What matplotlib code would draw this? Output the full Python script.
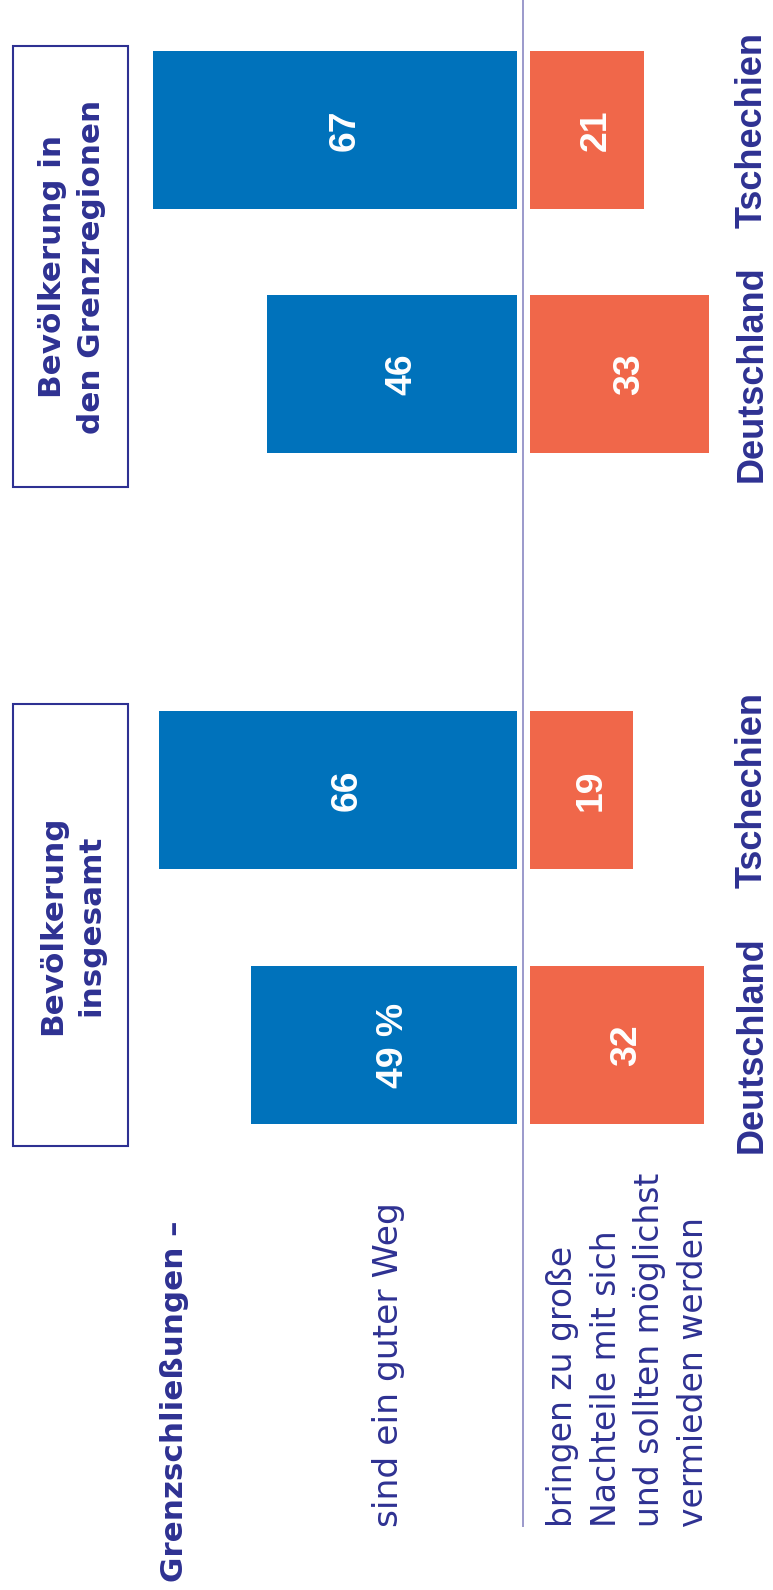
"""
Grenzschließungen – Zustimmung in Deutschland und Tschechien,
Bevölkerung insgesamt vs. Bevölkerung in den Grenzregionen.

Rotated butterfly bar chart, saved as out.png.
"""

import matplotlib.pyplot as plt
from matplotlib import font_manager
from matplotlib.patches import Rectangle

# ---- data -------------------------------------------------------------
groups = ["Bevölkerung\ninsgesamt", "Bevölkerung in\nden Grenzregionen"]
countries = ["Deutschland", "Tschechien", "Deutschland", "Tschechien"]
good_way = [49, 66, 46, 67]        # "sind ein guter Weg"
disadvantages = [32, 19, 33, 21]   # "bringen zu große Nachteile ..."

title = "Grenzschließungen –"
answer_good = "sind ein guter Weg"
answer_bad = "bringen zu große\nNachteile mit sich\nund sollten möglichst\nvermieden werden"

# ---- style / layout ---------------------------------------------------
BLUE = "#0072bb"
ORANGE = "#f0674a"
NAVY = "#2e3192"
RULE = "#8a87c2"

W, H = 773, 1590
ZERO_PX = 522.5        # column of the centre rule
PX_PER_PCT = 5.43
GAP_LEFT, GAP_RIGHT = 1.0, 1.4

bar_rows = [1045, 790, 374, 130]
bar_height = 158
box_spans = [(704, 1146), (46, 487)]

# narrow bold face for numbers and country names, if it is installed
try:
    font_manager.findfont("Liberation Sans Narrow", fallback_to_default=False)
    NARROW, NARROW_SCALE = "Liberation Sans Narrow", 1.0
except ValueError:
    NARROW, NARROW_SCALE = "Liberation Sans", 0.84

fig = plt.figure(figsize=(W / 100, H / 100), dpi=100)

# bar axes: x in percent, y in pixel rows
ax = fig.add_axes([0, 0, 1, 1])
ax.set_xlim(-ZERO_PX / PX_PER_PCT, (W - ZERO_PX) / PX_PER_PCT)
ax.set_ylim(H, 0)
ax.axis("off")

# layout axes for boxes and text, in pixels
lay = fig.add_axes([0, 0, 1, 1])
lay.set_xlim(0, W)
lay.set_ylim(H, 0)
lay.patch.set_visible(False)
lay.axis("off")

ax.barh(bar_rows, [-v for v in good_way], left=-GAP_LEFT, height=bar_height, color=BLUE)
ax.barh(bar_rows, disadvantages, left=GAP_RIGHT, height=bar_height, color=ORANGE)
ax.vlines(0, 0, 1527, color=RULE, lw=1.2)

num_size = 32 * NARROW_SCALE
shift = 19 / PX_PER_PCT  # baseline sits right of the bar middle
for i, (y, v) in enumerate(zip(bar_rows, good_way)):
    label = f"{v} %" if i == 0 else f"{v}"
    ax.text(-(GAP_LEFT + v / 2) + shift, y, label, rotation=90, rotation_mode="anchor",
            ha="center", va="baseline", color="white", fontsize=num_size,
            fontweight="bold", family=NARROW)
for y, v in zip(bar_rows, disadvantages):
    ax.text(GAP_RIGHT + v / 2 + shift, y, f"{v}", rotation=90, rotation_mode="anchor",
            ha="center", va="baseline", color="white", fontsize=num_size,
            fontweight="bold", family=NARROW)

# country names along the right edge
for y, name in zip(bar_rows, countries):
    lay.text(762, y, name, rotation=90, rotation_mode="anchor", ha="center",
             va="baseline", color=NAVY, fontsize=31 * NARROW_SCALE,
             fontweight="bold", family=NARROW)

# group boxes
for (top, bottom), name in zip(box_spans, groups):
    lay.add_patch(Rectangle((12.7, top), 115, bottom - top, fill=False,
                            ec=NAVY, lw=1.5))
    lay.text(72, (top + bottom) / 2, name, rotation=90, rotation_mode="anchor",
             ha="center", va="center", multialignment="center", color=NAVY,
             fontsize=22.3, fontweight="bold", linespacing=1.4)

lay.text(183, 1582, title, rotation=90, rotation_mode="anchor", ha="left",
         va="baseline", color=NAVY, fontsize=22.3, fontweight="bold")
lay.text(398, 1527, answer_good, rotation=90, rotation_mode="anchor", ha="left",
         va="baseline", color=NAVY, fontsize=24.8)
lay.text(628, 1527, answer_bad, rotation=90, rotation_mode="anchor", ha="left",
         va="center", multialignment="left", color=NAVY, fontsize=23.8,
         linespacing=1.4)

fig.savefig("out.png", dpi=100)
